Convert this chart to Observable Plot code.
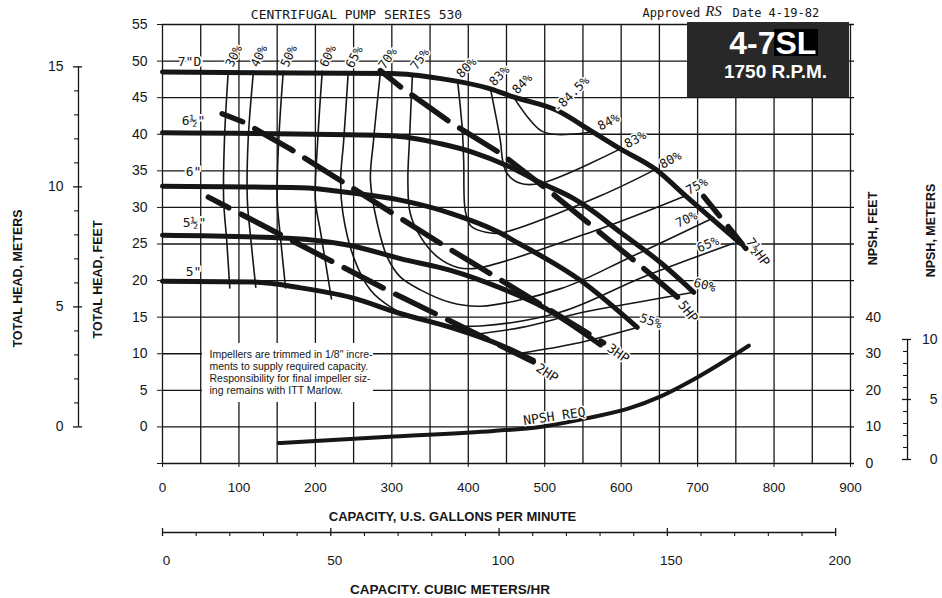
<!DOCTYPE html>
<html><head><meta charset="utf-8">
<script src="https://cdn.jsdelivr.net/npm/d3@7"></script>
<script src="https://cdn.jsdelivr.net/npm/@observablehq/plot@0.6"></script>
<style>
html,body{margin:0;padding:0;background:#fff;overflow:hidden;}
#chart{width:942px;height:598px;}
</style></head><body><div id="chart"></div>
<script>
// ---------- axis ticks ----------
const gpmTicks = [0,100,200,300,400,500,600,700,800,900];
const gpmGrid = [0,50,100,150,200,250,300,350,400,450,500,550,600,650,700,750,800,850,900];
const headGrid = [-5,0,5,10,15,20,25,30,35,40,45,50,55];
const npshFtTicks = [0,10,20,30,40];
const headMMajor = [0,5,10,15];
const headMMinor = [1,2,3,4,6,7,8,9,11,12,13,14];
const npshMMajor = [0,5,10];
const npshMMinor = [1,2,3,4,6,7,8,9];
const m3Major = [0,50,100,150,200];
const m3Minor = [10,20,30,40,60,70,80,90,110,120,130,140,160,170,180,190];

// ---------- impeller head curves [GPM, ft] ----------
const impLabels = ['7"D','6½"','6"','5½"','5"'];
const imp7  = [[0,48.5],[300,48.3],[364,47.6],[429,46.2],[459,45.1],[517,43.2],[560,40.5],[599,38.0],[645,35.2],[684,31.6],[717,28.6],[756,25.1]];
const imp65 = [[0,40.2],[298,39.8],[364,38.7],[407,37.5],[451,35.7],[494,33.4],[538,31.2],[556,30.0],[599,26.6],[651,22.5],[695,18.4]];
const imp6  = [[0,32.9],[181,32.7],[246,32.0],[311,31.0],[377,29.2],[442,26.5],[459,25.5],[547,20.0],[621,13.6]];
const imp55 = [[0,26.2],[164,25.8],[246,24.8],[311,23.0],[377,21.4],[442,19.0],[494,16.6],[573,11.2]];
const imp5  = [[0,19.9],[119,19.8],[181,19.0],[246,17.7],[311,15.5],[377,13.6],[442,11.2],[485,9.1]];

// ---------- horsepower lines [GPM, ft] ----------
const hpLabels = ["2HP","3HP","5HP","7½HP"];
const hp2  = [[60,31.4],[294,18.7],[485,8.9]];
const hp3  = [[78,42.8],[105,41.7],[167,38.0],[368,24.8],[577,11.5]];
const hp5  = [[285,48.7],[311,46.5],[377,41.6],[442,37.4],[510,31.9],[573,26.5],[636,21.1],[674,17.7]];
const hp75 = [[708,31.5],[763,24.4]];

// ---------- efficiency contours [GPM, ft] ----------
const eff30 = [[86,48.6],[81,39.1],[80,31.0],[84,25.5],[88,19.0]];
const eff40 = [[119,48.6],[112,39.1],[111,31.0],[115,26.2],[122,19.1]];
const eff50 = [[158,48.6],[152,39.1],[150,31.0],[154,26.2],[161,19.0]];
const eff60 = [[209,48.6],[203,39.1],[200,31.0],[207,26.5],[221,17.5]];
const eff65 = [[243,48.5],[237,39.1],[233,33.7],[236,29.2],[250,23.2],[272,18.7],[298,16.4],[324,15.1],[364,14.0],[416,13.8],[521,15.7],[629,20.5],[747,25.1]];
const eff70 = [[285,48.4],[276,39.1],[272,33.7],[281,27.8],[294,23.2],[311,20.5],[338,18.7],[377,17.0],[416,16.5],[521,18.9],[612,23.2],[721,28.6]];
const eff75 = [[327,48.3],[323,39.1],[321,33.7],[324,29.2],[338,25.9],[360,23.2],[386,21.8],[412,21.7],[573,27.1],[682,31.5]];
const eff80 = [[386,47.3],[392,40.9],[394,36.4],[396,29.6],[403,27.5],[423,26.6],[442,26.5],[573,31.6],[645,35.2]];
const eff83 = [[429,46.2],[442,39.1],[445,36.4],[451,34.6],[468,33.3],[495,33.3],[599,38.0]];
const eff84 = [[459,45.1],[478,42.3],[495,40.5],[512,40.0],[547,40.1],[564,40.4]];
const eff60r = [[403,12.6],[470,13.6],[547,15.6],[620,17.0],[695,18.4]];
const eff55r = [[470,10.1],[540,11.4],[621,13.6]];
const peakEff = [[514,43.25]];

// ---------- NPSH required [GPM, NPSH ft] ----------
const npshReq = [[152,5.6],[302,7.4],[433,8.9],[494,10.0],[556,12.4],[612,15.2],[651,18.3],[700,23.6],[767,32.2]];

const noteLines = ['Impellers are trimmed in 1/8" incre-','ments to supply required capacity.','Responsibility for final impeller siz-','ing remains with ITT Marlow.'];

// ---------- helpers ----------
const W = 942, H = 598, mL = 162, mR = 92, mT = 24, mB = 135;
const qpp = 900 / (W - mL - mR);   // GPM per pixel
const hpp = 60 / (H - mT - mB);    // ft per pixel
const M2FT = 3.28084, M3H = 4.40287;
const npshToHead = v => -5 + v / 2;
const ink = "#161616";
const mono = "DejaVu Sans Mono, Liberation Mono, monospace";
const sans = "Liberation Sans, Arial, sans-serif";
const X = d => d[0], Y = d => d[1];

function lab(pt, txt, o) {
  return Plot.text([pt], {x: X, y: Y, text: () => txt, fontFamily: mono, fontSize: 12.5,
    fill: ink, stroke: "white", strokeWidth: 3, lineAnchor: "middle", ...o});
}

const marks = [];
// grid
marks.push(Plot.ruleX(gpmGrid, {x: d => d, y1: -5, y2: 55, stroke: ink, strokeWidth: 1.3}));
marks.push(Plot.ruleY(headGrid, {y: d => d, x1: 0, x2: 900 + 4 * qpp, stroke: ink, strokeWidth: 1.3}));
// note box background
marks.push(Plot.rect([0], {x1: 52.3, x2: 276, y1: 3.34, y2: 11.4, fill: "white"}));

// efficiency contours
[eff30, eff40, eff50, eff60, eff65, eff70, eff75, eff80, eff83, eff84, eff60r, eff55r].forEach(e =>
  marks.push(Plot.line(e, {x: X, y: Y, stroke: ink, strokeWidth: 1.6, curve: "catmull-rom"})));

// impeller curves
[imp7, imp65, imp6, imp55, imp5].forEach(c =>
  marks.push(Plot.line(c, {x: X, y: Y, stroke: ink, strokeWidth: 5, curve: "monotone-x"})));

// HP lines
[[hp2, 21], [hp3, 22], [hp5, 18], [hp75, 19]].forEach(([h, off]) =>
  marks.push(Plot.line(h, {x: X, y: Y, stroke: ink, strokeWidth: 5.5, strokeDasharray: "44,14", strokeDashoffset: off})));

// NPSH required
marks.push(Plot.line(npshReq, {x: X, y: d => npshToHead(d[1]), stroke: ink, strokeWidth: 4, curve: "monotone-x"}));

// efficiency labels (top ends)
const topCfg = [[eff30,"30%",-65],[eff40,"40%",-65],[eff50,"50%",-65],[eff60,"60%",-65],[eff65,"65%",-62],
  [eff70,"70%",-55],[eff75,"75%",-55],[eff80,"80%",-45],[eff83,"83%",-45],[eff84,"84%",-45]];
topCfg.forEach(([e, t, r]) => marks.push(lab(e[0], t, {textAnchor: "start", dx: 1, dy: -5, rotate: r})));
// efficiency labels (right ends)
const last = a => a[a.length - 1];
marks.push(lab(last(eff84), "84%", {textAnchor: "start", dx: 5, dy: -4, rotate: -28}));
marks.push(lab(last(eff83), "83%", {textAnchor: "start", dx: 5, dy: -4, rotate: -28}));
marks.push(lab(last(eff80), "80%", {textAnchor: "start", dx: 5, dy: -4, rotate: -28}));
marks.push(lab(last(eff75), "75%", {textAnchor: "start", dx: 3, dy: -5, rotate: -28}));
marks.push(lab(last(eff70), "70%", {textAnchor: "end", dx: -17, dy: -3, rotate: -25}));
marks.push(lab(last(eff65), "65%", {textAnchor: "end", dx: -15, dy: -3, rotate: -22}));
marks.push(lab(last(eff60r), "60%", {textAnchor: "start", dx: 0, dy: -10, rotate: 15}));
marks.push(lab(last(eff55r), "55%", {textAnchor: "start", dx: 3, dy: -10, rotate: 20}));
marks.push(lab(peakEff[0], "-84.5%", {textAnchor: "start", dx: 0, dy: 0, rotate: -45}));

// HP labels
marks.push(lab(last(hp2), hpLabels[0], {textAnchor: "start", dx: 4, dy: 5, rotate: 33, fontSize: 13}));
marks.push(lab(last(hp3), hpLabels[1], {textAnchor: "start", dx: 5, dy: 4, rotate: 35, fontSize: 13}));
marks.push(lab(last(hp5), hpLabels[2], {textAnchor: "start", dx: 3, dy: 5, rotate: 52, fontSize: 13}));
marks.push(lab(last(hp75), hpLabels[3], {textAnchor: "start", dx: 3, dy: -9, rotate: 55, fontSize: 13}));

// impeller labels
[[imp7,27,-10],[imp65,31,-12],[imp6,31,-14],[imp55,32,-12],[imp5,31,-9]].forEach(([c, dx, dy], i) =>
  marks.push(lab(c[0], impLabels[i], {textAnchor: "middle", dx, dy, fontSize: 13, strokeWidth: 4})));

// NPSH REQ label
marks.push(lab([512.8, 1.15], "NPSH REQ", {textAnchor: "middle", rotate: -8, dy: -2, fontSize: 13, strokeWidth: 3}));

// note text
marks.push(Plot.text([noteLines.join("\n")], {x: 61.5, y: 10.58, text: d => d, textAnchor: "start", lineAnchor: "top",
  lineHeight: 1.15, fontSize: 10.5, fontFamily: sans, fill: ink}));

// header
marks.push(Plot.text(["CENTRIFUGAL PUMP SERIES 530"], {x: 253.8, y: 56.37, text: d => d, fontFamily: mono, fontSize: 13, fill: ink}));
marks.push(Plot.text(["Approved"], {x: 627.9, y: 56.6, text: d => d, textAnchor: "start", fontFamily: mono, fontSize: 12, fill: ink}));
marks.push(Plot.text(["RS"], {x: 720.8, y: 56.78, text: d => d, fontFamily: "Liberation Serif, serif", fontStyle: "italic", fontSize: 15, fill: ink}));
marks.push(Plot.text(["Date 4-19-82"], {x: 745.6, y: 56.6, text: d => d, textAnchor: "start", fontFamily: mono, fontSize: 12, fill: ink}));

// model box
marks.push(Plot.rect([0], {x1: 686.8, x2: 898.7, y1: 45.02, y2: 55.27, fill: "#282828"}));
marks.push(Plot.rect([0], {x1: 800.6, x2: 858.1, y1: 50.63, y2: 54.32, fill: "#000"}));
marks.push(Plot.text(["4-7"], {x: 801.9, y: 52.4, text: d => d, textAnchor: "end", fontFamily: sans, fontWeight: "bold", fontSize: 32, fill: "white"}));
marks.push(Plot.text(["SL"], {x: 801.9, y: 52.4, text: d => d, textAnchor: "start", fontFamily: sans, fontWeight: "bold", fontSize: 32, fill: "white"}));
marks.push(Plot.text(["1750 R.P.M."], {x: 801.9, y: 48.58, text: d => d, fontFamily: sans, fontWeight: "bold", fontSize: 19, fill: "white"}));

// main axes
marks.push(Plot.axisX({ticks: gpmTicks, tickSize: 4, tickPadding: 15, fontSize: 13.5, label: null, stroke: ink}));
marks.push(Plot.axisY({ticks: headGrid, tickSize: 5, tickPadding: 10, fontSize: 14, label: null, tickFormat: d => d < 0 ? "" : d, stroke: ink}));

// left meters axis
const qM = -109.9;
marks.push(Plot.ruleX([qM], {x: d => d, y1: 0, y2: 15 * M2FT, stroke: ink, strokeWidth: 1.3}));
marks.push(Plot.ruleY(headMMajor, {y: d => d * M2FT, x1: qM - 5 * qpp, x2: qM + 4 * qpp, stroke: ink, strokeWidth: 1.3}));
marks.push(Plot.ruleY(headMMinor, {y: d => d * M2FT, x1: qM - 4 * qpp, x2: qM, stroke: ink, strokeWidth: 1.1}));
marks.push(Plot.text(headMMajor, {x: -129.5, y: d => d * M2FT, text: d => d, textAnchor: "end", fontSize: 14, fontFamily: sans, fill: ink}));

// right NPSH feet labels
marks.push(Plot.text(npshFtTicks, {x: 900, dx: 15, y: d => npshToHead(d), text: d => d, textAnchor: "start", fontSize: 14, fontFamily: sans, fill: ink}));

// right NPSH meters axis
const qN = 974.6;
marks.push(Plot.ruleX([qN], {x: d => d, y1: npshToHead(0), y2: npshToHead(10 * M2FT), dy: -4, stroke: ink, strokeWidth: 1.3}));
marks.push(Plot.ruleY(npshMMajor, {y: d => npshToHead(d * M2FT), x1: qN - 5 * qpp, x2: qN + 4 * qpp, dy: -4, stroke: ink, strokeWidth: 1.3}));
marks.push(Plot.ruleY(npshMMinor, {y: d => npshToHead(d * M2FT), x1: qN - 4 * qpp, x2: qN, dy: -4, stroke: ink, strokeWidth: 1.1}));
marks.push(Plot.text(npshMMajor, {x: 1013.8, y: d => npshToHead(d * M2FT), dy: -4, text: d => d, textAnchor: "end", fontSize: 14, fontFamily: sans, fill: ink}));

// bottom cubic meters axis
const hM = -14.43;
marks.push(Plot.ruleY([hM], {y: d => d, x1: 0, x2: 200 * M3H, stroke: ink, strokeWidth: 1.3}));
marks.push(Plot.ruleX(m3Major, {x: d => d * M3H, y1: hM + 4 * hpp, y2: hM - 4 * hpp, stroke: ink, strokeWidth: 1.3}));
marks.push(Plot.ruleX(m3Minor, {x: d => d * M3H, y1: hM, y2: hM - 4 * hpp, stroke: ink, strokeWidth: 1.1}));
marks.push(Plot.text(m3Major, {x: d => d * M3H, dx: 4, y: -18.26, text: d => d, fontSize: 13.5, fontFamily: sans, fill: ink}));

// axis titles
const title = (t, x, y, o = {}) => Plot.text([t], {x, y, text: d => d, fontFamily: sans, fontWeight: "bold", fontSize: 12.5, fill: ink, ...o});
marks.push(title("CAPACITY, U.S. GALLONS PER MINUTE", 379.4, -12.24, {fontSize: 13}));
marks.push(title("CAPACITY. CUBIC METERS/HR", 376, -22.22, {fontSize: 13.5}));
marks.push(title("TOTAL HEAD, METERS", -188.4, 20.29, {rotate: -90}));
marks.push(title("TOTAL HEAD, FEET", -85.0, 20.15, {rotate: -90}));
marks.push(title("NPSH, FEET", 928.8, 27.12, {rotate: -90}));
marks.push(title("NPSH, METERS", 1004.7, 26.85, {rotate: -90}));

const chart = Plot.plot({
  width: W, height: H,
  marginLeft: mL, marginRight: mR, marginTop: mT, marginBottom: mB,
  x: {domain: [0, 900]},
  y: {domain: [-5, 55]},
  style: {fontFamily: sans, fontSize: "14px", background: "white", color: ink},
  marks
});
document.getElementById("chart").appendChild(chart);
</script></body></html>
